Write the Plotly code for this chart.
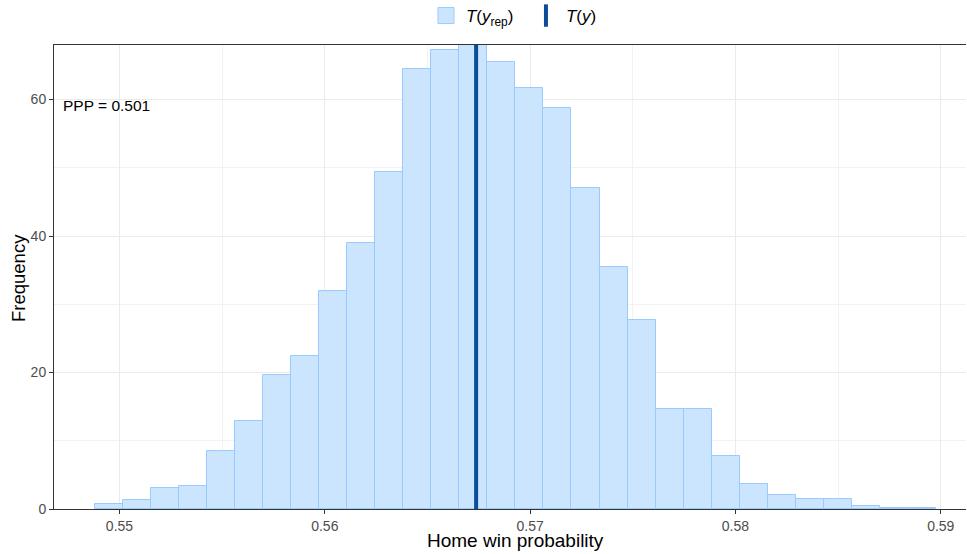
import plotly.graph_objects as go

# Data
bin_start = 0.54881
bin_width = 0.001365
counts = [0.7, 1.3, 3.1, 3.3, 8.45, 12.85, 19.6, 22.4, 31.9, 39.0,
          49.4, 64.5, 67.2, 68.0, 65.5, 61.7, 58.7, 47.1, 35.4, 27.7,
          14.7, 14.7, 7.8, 3.7, 2.0, 1.46, 1.46, 0.4, 0.18, 0.12]
t_y = 0.56737
ppp_label = "PPP = 0.501"
x_title = "Home win probability"
y_title = "Frequency"
x_ticks = [0.55, 0.56, 0.57, 0.58, 0.59]
y_ticks = [0, 20, 40, 60]

centers = [bin_start + bin_width * (i + 0.5) for i in range(len(counts))]

LIGHT = "#cce5ff"
LIGHT_HL = "#99cbff"
DARK = "#0a4c99"
FONT = "Liberation Sans, Arial, sans-serif"

fig = go.Figure()
fig.add_trace(go.Bar(
    x=centers, y=counts, width=[bin_width] * len(counts),
    marker=dict(color=LIGHT, line=dict(color=LIGHT_HL, width=1)),
    showlegend=False,
))
fig.add_trace(go.Scatter(
    x=[t_y, t_y], y=[0, 68], mode="lines",
    line=dict(color=DARK, width=4), showlegend=False, hoverinfo="skip",
))
# legend entries
fig.add_trace(go.Scatter(
    x=[None], y=[None], mode="markers",
    marker=dict(symbol="square", size=17, color=LIGHT, line=dict(color=LIGHT_HL, width=1)),
    name="<i>T</i>(<i>y</i><sub>rep</sub>)", showlegend=True,
))
fig.add_trace(go.Scatter(
    x=[None], y=[None], mode="markers",
    marker=dict(symbol="line-ns", size=18, line=dict(color=DARK, width=4), color=DARK),
    name="<i>T</i>(<i>y</i>)", showlegend=True,
))

fig.add_annotation(
    x=(61 - 54) / 912, xref="paper", y=59.2, yref="y",
    text=ppp_label, showarrow=False, xanchor="left", yanchor="middle",
    font=dict(size=15.5, color="black", family=FONT),
)
fig.add_annotation(
    x=(515.5 - 54) / 912, xref="paper", y=-(540.5 - 509) / 464, yref="paper",
    text=x_title, showarrow=False, xanchor="center", yanchor="middle",
    font=dict(size=19, color="black", family=FONT),
)
fig.add_annotation(
    x=-(54 - 18) / 912, xref="paper", y=(509 - 278) / 464, yref="paper",
    text=y_title, showarrow=False, xanchor="center", yanchor="middle", textangle=-90,
    font=dict(size=18.5, color="black", family=FONT),
)

fig.update_layout(
    width=967, height=554,
    margin=dict(l=54, r=1, t=45, b=45, autoexpand=False),
    paper_bgcolor="white", plot_bgcolor="white",
    bargap=0,
    font=dict(family=FONT),
    legend=dict(orientation="h", x=0.5175, xanchor="center", y=1.0625, yanchor="middle",
                font=dict(size=17, color="black"),
                entrywidth=55, entrywidthmode="pixels",
                bgcolor="rgba(0,0,0,0)"),
    xaxis=dict(
        range=[0.54681, 0.59123], tickvals=x_ticks, ticktext=[f"{v:.2f}" for v in x_ticks],
        showgrid=True, gridcolor="#ebebeb", gridwidth=1,
        minor=dict(dtick=0.005, tick0=0.55, showgrid=True, gridcolor="#f2f2f2", gridwidth=1),
        showline=True, linecolor="#333333", linewidth=1, mirror=True,
        ticks="outside", ticklen=4, tickcolor="#333333",
        tickfont=dict(size=14, color="#4d4d4d"),
        zeroline=False, automargin=False,
    ),
    yaxis=dict(
        range=[0, 68], tickvals=y_ticks,
        showgrid=True, gridcolor="#ebebeb", gridwidth=1,
        minor=dict(dtick=10, tick0=0, showgrid=True, gridcolor="#f2f2f2", gridwidth=1),
        showline=True, linecolor="#333333", linewidth=1,
        ticks="outside", ticklen=4, tickcolor="#333333",
        tickfont=dict(size=14, color="#4d4d4d"),
        zeroline=False, automargin=False,
    ),
)

fig.write_html(
    "out.html",
    config={"displayModeBar": False},
    post_script="document.body.style.margin='0';document.body.style.overflow='hidden';",
)
